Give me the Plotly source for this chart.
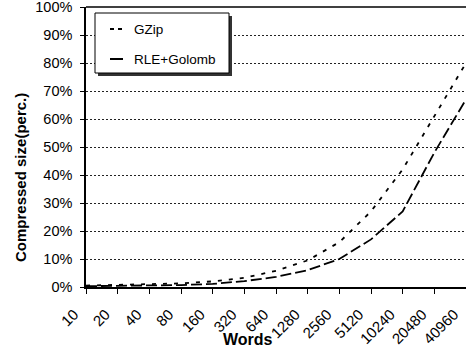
import plotly.graph_objects as go

words = ["10", "20", "40", "80", "160", "320", "640", "1280", "2560", "5120", "10240", "20480", "40960"]
gzip = [0.5, 0.7, 0.9, 1.3, 2.0, 3.3, 5.8, 9.5, 16, 27, 42, 61, 80]
rle_golomb = [0.3, 0.4, 0.5, 0.7, 1.1, 2.1, 3.6, 6.0, 10, 17, 27, 48, 67]
y_ticks = [0, 10, 20, 30, 40, 50, 60, 70, 80, 90, 100]

W, H = 466, 352
L, R, T, B = 86, 0, 7, 65
PW, PH = W - L - R, H - T - B
FONT = "Arial, Liberation Sans, sans-serif"


def px(x):
    return (x - L) / PW


def py(y):
    return (H - B - y) / PH


fig = go.Figure()
fig.add_trace(go.Scatter(x=list(range(len(words))), y=gzip, mode="lines", name="GZip",
                         line=dict(color="black", width=1.8, dash="4px,7px"), cliponaxis=False))
fig.add_trace(go.Scatter(x=list(range(len(words))), y=rle_golomb, mode="lines", name="RLE+Golomb",
                         line=dict(color="black", width=1.8, dash="11px,4px"), cliponaxis=False))

shapes = []
# top border of plot area
shapes.append(dict(type="line", xref="paper", yref="paper", x0=0, x1=1, y0=1, y1=1,
                   line=dict(color="black", width=1.5)))
# legend shadow and box
shapes.append(dict(type="rect", xref="paper", yref="paper", x0=px(98), x1=px(232), y0=py(76), y1=py(16),
                   fillcolor="#333", line=dict(width=0), layer="above"))
shapes.append(dict(type="rect", xref="paper", yref="paper", x0=px(95), x1=px(229), y0=py(73), y1=py(13),
                   fillcolor="white", line=dict(color="black", width=1), layer="above"))
shapes.append(dict(type="line", xref="paper", yref="paper", x0=px(110), x1=px(123), y0=py(29), y1=py(29),
                   line=dict(color="black", width=2, dash="4px,4px"), layer="above"))
shapes.append(dict(type="line", xref="paper", yref="paper", x0=px(110), x1=px(123), y0=py(59), y1=py(59),
                   line=dict(color="black", width=2), layer="above"))

annotations = [
    dict(text="GZip", xref="paper", yref="paper", x=px(132), y=py(29), xanchor="left", yanchor="middle",
         showarrow=False, font=dict(family=FONT, size=13.5, color="black")),
    dict(text="RLE+Golomb", xref="paper", yref="paper", x=px(132), y=py(59), xanchor="left", yanchor="middle",
         showarrow=False, font=dict(family=FONT, size=13.5, color="black")),
    dict(text="<b>Compressed size(perc.)</b>", xref="paper", yref="paper", x=px(20), y=py(178),
         xanchor="center", yanchor="middle", textangle=-90, showarrow=False,
         font=dict(family=FONT, size=15, color="black")),
    dict(text="<b>Words</b>", xref="paper", yref="paper", x=px(248), y=py(339),
         xanchor="center", yanchor="middle", showarrow=False,
         font=dict(family=FONT, size=16, color="black")),
]

fig.update_layout(
    width=W, height=H,
    margin=dict(l=L, r=R, t=T, b=B, autoexpand=False),
    paper_bgcolor="white", plot_bgcolor="white",
    showlegend=False,
    font=dict(family=FONT, size=15, color="black"),
    shapes=shapes, annotations=annotations,
    xaxis=dict(range=[0, len(words) - 1], tickmode="array", tickvals=list(range(len(words))),
               ticktext=words, tickangle=-45, showgrid=False, zeroline=False,
               showline=True, linecolor="black", linewidth=1.5,
               ticks="outside", ticklen=5, tickcolor="black", tickwidth=1,
               ticklabeloverflow="allow", ticklabelstandoff=6, ticklabelshift=-12,
               tickfont=dict(family=FONT, size=15, color="black")),
    yaxis=dict(range=[0, 100], tickmode="array", tickvals=y_ticks,
               ticktext=[f"{v}%" for v in y_ticks],
               showgrid=True, gridcolor="#222", gridwidth=1, griddash="2px,2px",
               zeroline=False, showline=True, linecolor="black", linewidth=1.5,
               ticks="outside", ticklen=4, tickcolor="black", tickwidth=1,
               ticklabeloverflow="allow", ticklabelstandoff=5,
               tickfont=dict(family=FONT, size=14.5, color="black")),
)

fig.write_html("out.html")
